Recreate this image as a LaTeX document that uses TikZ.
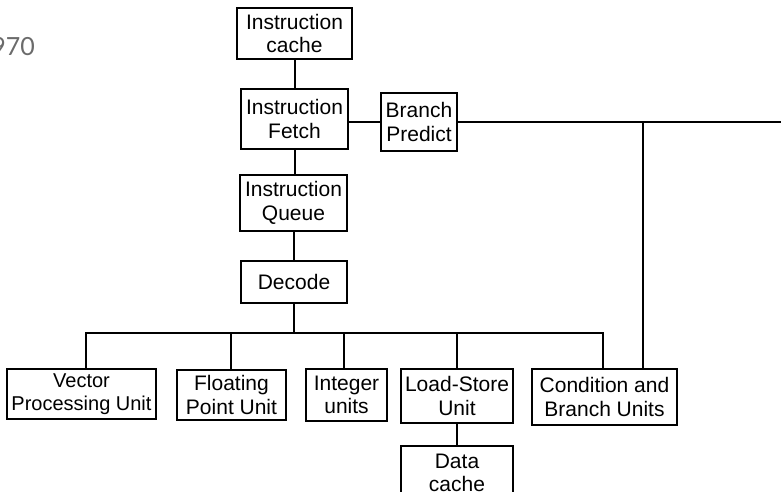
\documentclass[tikz,border=0pt]{standalone}
\usepackage{fontspec}
\setmainfont{Liberation Sans}
\newfontfamily\yearfont{Lato}
\begin{document}
\begin{tikzpicture}[x=1pt,y=-1pt,
  unitbox/.style={draw=black, line width=2pt, inner sep=0pt, align=center,
    font=\fontsize{21}{23.5}\selectfont},
  link/.style={draw=black, line width=2pt}]
\useasboundingbox (0,0) rectangle (781,492);
\node[anchor=east, text=black!58, font=\yearfont\fontsize{25}{25}\selectfont, inner sep=0pt] (year) at (35,47) {970};
% boxes
\node[unitbox, minimum width=115pt, minimum height=51pt] (icache) at (294.5,33.5) {Instruction\\cache};
\node[unitbox, minimum width=107pt, minimum height=60pt] (ifetch) at (294.5,119) {Instruction\\Fetch};
\node[unitbox, minimum width=76pt, minimum height=58pt] (bpred) at (419,122) {Branch\\Predict};
\node[unitbox, minimum width=107pt, minimum height=56pt] (iqueue) at (293.5,203) {Instruction\\Queue};
\node[unitbox, minimum width=106pt, minimum height=42pt] (decode) at (294,282) {Decode};
\node[unitbox, minimum width=149pt, minimum height=50pt, font=\fontsize{20}{23}\selectfont] (vpu) at (81.5,394) {Vector\\Processing Unit};
\node[unitbox, minimum width=109pt, minimum height=50pt] (fpu) at (231.5,395) {Floating\\Point Unit};
\node[unitbox, minimum width=81pt, minimum height=52pt] (intu) at (346.5,395) {Integer\\units};
\node[unitbox, minimum width=112pt, minimum height=54pt] (lsu) at (457,396) {Load-Store\\Unit};
\node[unitbox, minimum width=145pt, minimum height=56pt] (cbu) at (604.5,397) {Condition and\\Branch Units};
\node[unitbox, minimum width=112pt, minimum height=54pt] (dcache) at (457,473) {Data\\cache};
% coordinates
\coordinate (rightend) at (782,122);
\coordinate (bjunc) at (643,122);
\coordinate (busmid) at (294,333);
\coordinate (busleft) at (86,333);
\coordinate (busright) at (603,333);
% connectors
\draw[link] (icache.south) -- (ifetch.north);
\draw[link] (bpred.west) -- (bpred.west -| ifetch.east);
\draw[link] (bpred.east) -- (rightend);
\draw[link] (bjunc) -- (bjunc |- cbu.north);
\draw[link] (ifetch.south) -- (iqueue.north -| ifetch.south);
\draw[link] (iqueue.south) -- (decode.north -| iqueue.south);
\draw[link] (decode.south) -- (busmid);
\draw[link] (busleft |- vpu.north) -- (busleft) -- (busright) -- (busright |- cbu.north);
\draw[link] (231,333) -- (231,333 |- fpu.north);
\draw[link] (344,333) -- (344,333 |- intu.north);
\draw[link] (lsu.north) -- (lsu.north |- busmid);
\draw[link] (lsu.south) -- (dcache.north);
\end{tikzpicture}
\end{document}
